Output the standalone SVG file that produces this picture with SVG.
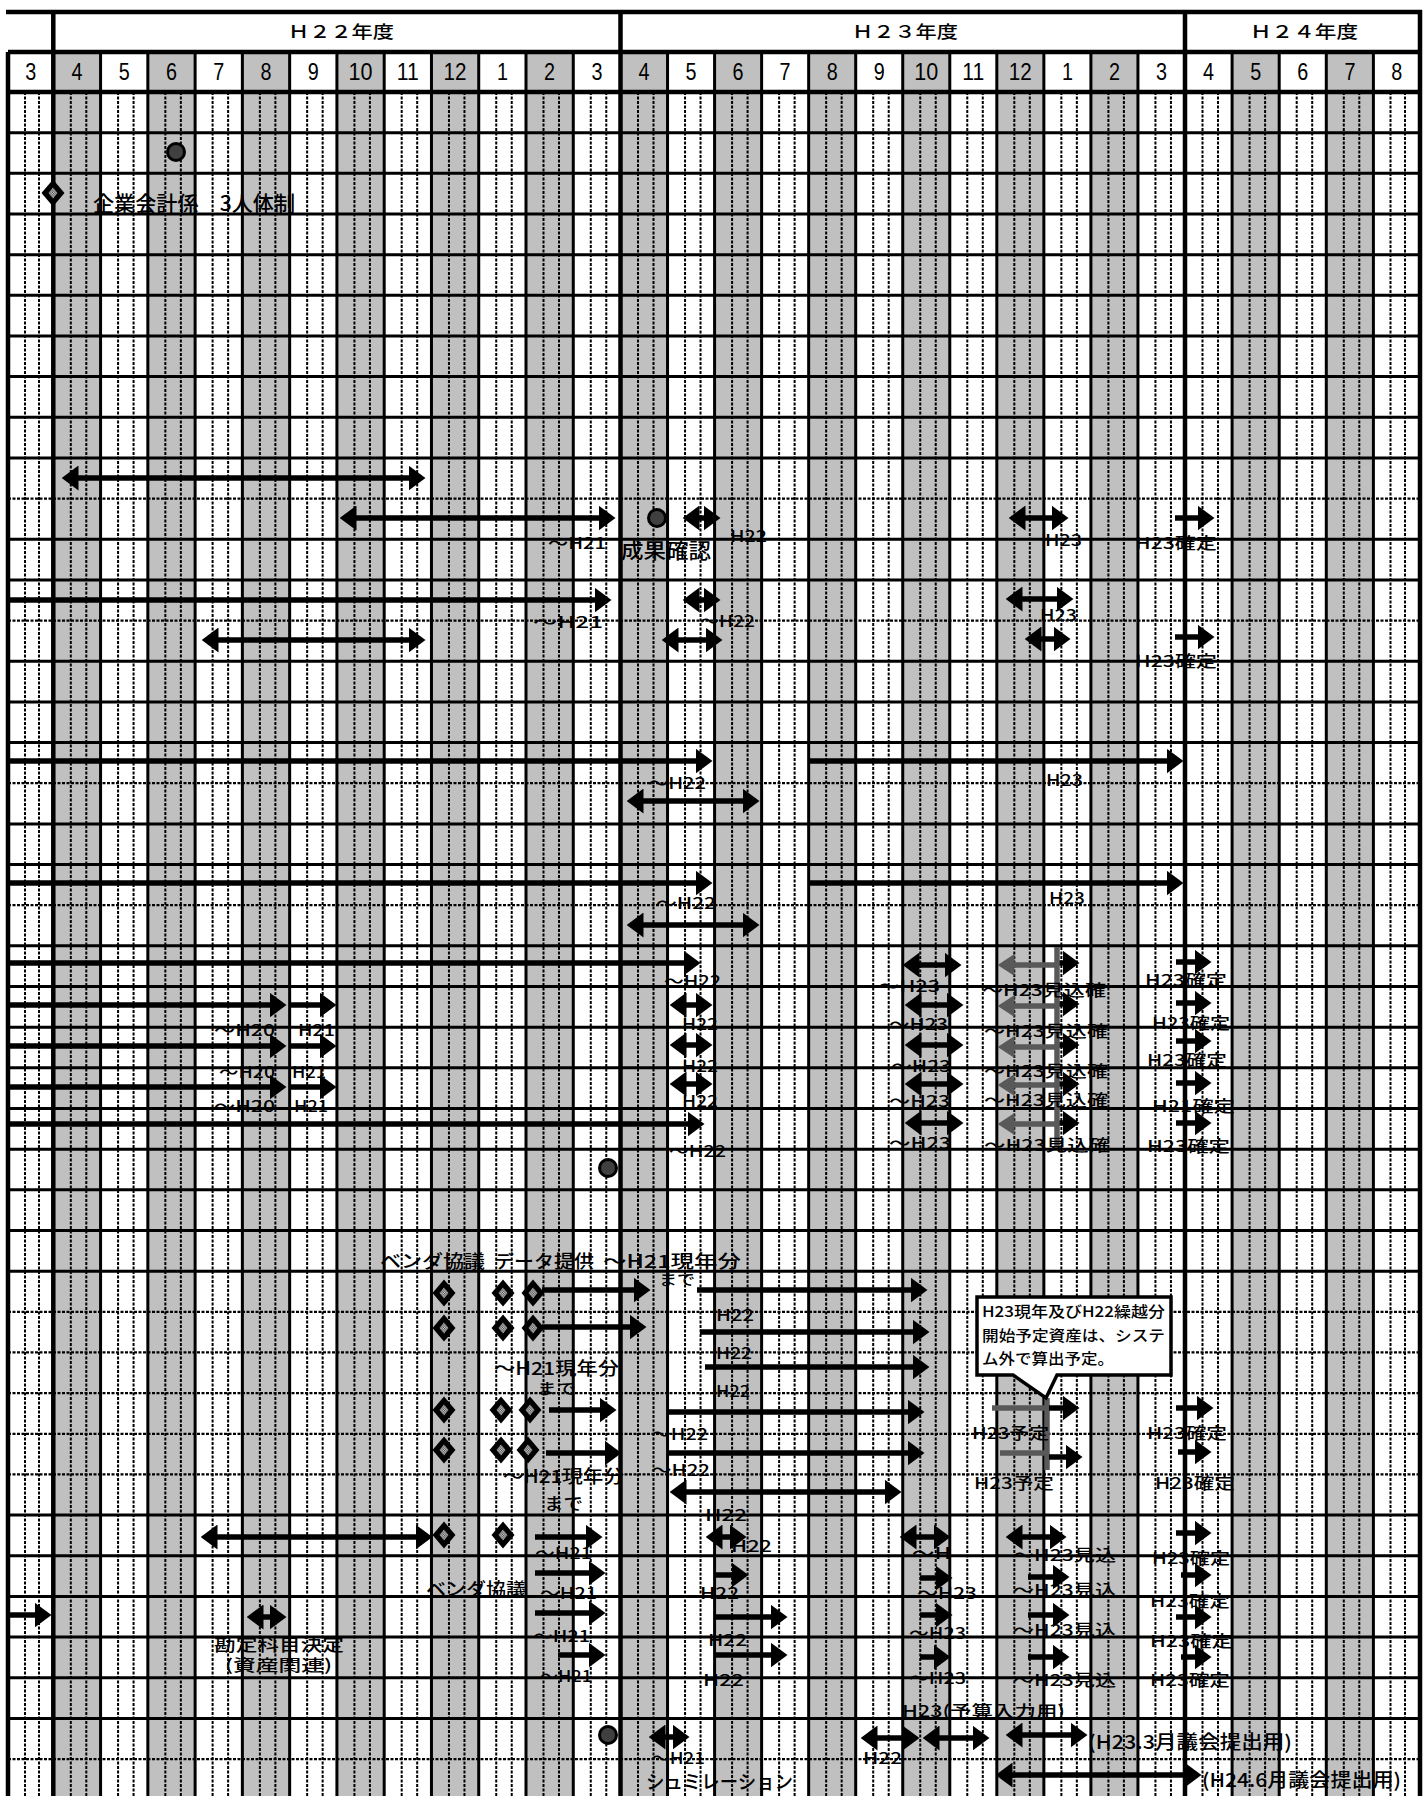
<svg xmlns="http://www.w3.org/2000/svg" width="1427" height="1796" viewBox="0 0 1427 1796">
<defs>
<style>
.g{fill:#c0c0c0}
.dv{stroke:#000;stroke-width:2;stroke-dasharray:3 1.5;fill:none}
.dh{stroke:#000;stroke-width:2.2;stroke-dasharray:3 1.5;fill:none}
.sl{stroke:#000;stroke-width:3;fill:none}
.tk{stroke:#000;stroke-width:4.5;fill:none}
.yr{font-family:"Noto Sans CJK JP","Noto Sans",sans-serif;font-size:17px;font-weight:500;fill:#000}
.mo{font-family:"Liberation Sans",Arial,sans-serif;font-size:23px;text-anchor:middle;fill:#000}
.t{font-family:"Noto Sans CJK JP","Noto Sans",sans-serif;font-size:16px;font-weight:500;fill:#000}
.r{stroke:#000;stroke-width:5.5;fill:none;marker-end:url(#ah)}
.d{stroke:#000;stroke-width:5.5;fill:none;marker-start:url(#ah);marker-end:url(#ah)}
.gd{stroke:#595959;stroke-width:5.5;fill:none;marker-start:url(#ahg)}
.gl{stroke:#595959;stroke-width:5.5;fill:none}
.dot{fill:#404040;stroke:#000;stroke-width:3}
</style>
<marker id="ah" viewBox="0 0 17 25" refX="0.5" refY="12.5" markerWidth="17" markerHeight="25" markerUnits="userSpaceOnUse" orient="auto-start-reverse"><path d="M0,0L17,12.5L0,25Z" fill="#000"/></marker>
<marker id="ahg" viewBox="0 0 17 22" refX="0.5" refY="11" markerWidth="17" markerHeight="22" markerUnits="userSpaceOnUse" orient="auto-start-reverse"><path d="M0,0L17,11L0,22Z" fill="#595959"/></marker>
<pattern id="chk" width="2.4" height="2.4" patternUnits="userSpaceOnUse"><rect width="2.4" height="2.4" fill="#d8d8d8"/><rect width="1.2" height="1.2" fill="#404040"/><rect x="1.2" y="1.2" width="1.2" height="1.2" fill="#404040"/></pattern>
<g id="dia"><path d="M0,-13.5L11.5,0L0,13.5L-11.5,0Z" fill="#000"/><path d="M0,-5.5L4.5,0L0,5.5L-4.5,0Z" fill="url(#chk)"/></g>
</defs>
<rect width="1427" height="1796" fill="#fff"/>
<g id="grid">
<rect class="g" x="53.3" y="52" width="47.27" height="1744"/>
<rect class="g" x="147.84" y="52" width="47.27" height="1744"/>
<rect class="g" x="242.38" y="52" width="47.27" height="1744"/>
<rect class="g" x="336.92" y="52" width="47.27" height="1744"/>
<rect class="g" x="431.46" y="52" width="47.27" height="1744"/>
<rect class="g" x="526" y="52" width="47.27" height="1744"/>
<rect class="g" x="620.5" y="52" width="47.04" height="1744"/>
<rect class="g" x="714.58" y="52" width="47.04" height="1744"/>
<rect class="g" x="808.66" y="52" width="47.04" height="1744"/>
<rect class="g" x="902.74" y="52" width="47.04" height="1744"/>
<rect class="g" x="996.82" y="52" width="47.04" height="1744"/>
<rect class="g" x="1090.9" y="52" width="47.04" height="1744"/>
<rect class="g" x="1232.1" y="52" width="47.1" height="1744"/>
<rect class="g" x="1326.3" y="52" width="47.1" height="1744"/>
<path class="dv" d="M25,92V1796M39,92V1796M70.8,92V1796M86.3,92V1796M118.07,92V1796M133.57,92V1796M165.34,92V1796M180.84,92V1796M212.61,92V1796M228.11,92V1796M259.88,92V1796M275.38,92V1796M307.15,92V1796M322.65,92V1796M354.42,92V1796M369.92,92V1796M401.69,92V1796M417.19,92V1796M448.96,92V1796M464.46,92V1796M496.23,92V1796M511.73,92V1796M543.5,92V1796M559,92V1796M590.77,92V1796M606.27,92V1796M638,92V1796M653.5,92V1796M685.04,92V1796M700.54,92V1796M732.08,92V1796M747.58,92V1796M779.12,92V1796M794.62,92V1796M826.16,92V1796M841.66,92V1796M873.2,92V1796M888.7,92V1796M920.24,92V1796M935.74,92V1796M967.28,92V1796M982.78,92V1796M1014.32,92V1796M1029.82,92V1796M1061.36,92V1796M1076.86,92V1796M1108.4,92V1796M1123.9,92V1796M1155.44,92V1796M1170.94,92V1796M1202.5,92V1796M1218,92V1796M1249.6,92V1796M1265.1,92V1796M1296.7,92V1796M1312.2,92V1796M1343.8,92V1796M1359.3,92V1796M1390.5,92V1796M1405,92V1796"/>
<path class="dh" d="M8,498.6H1420M8,620.58H1420M8,783.22H1420M8,905.2H1420M8,1311.8H1420M8,1352.46H1420M8,1393.12H1420M8,1433.78H1420M8,1474.44H1420M8,1759.06H1420"/>
<path class="sl" d="M8,132.66H1420M8,173.32H1420M8,213.98H1420M8,254.64H1420M8,295.3H1420M8,335.96H1420M8,376.62H1420M8,417.28H1420M8,457.94H1420M8,539.26H1420M8,579.92H1420M8,661.24H1420M8,701.9H1420M8,742.56H1420M8,823.88H1420M8,864.54H1420M8,945.86H1420M8,986.52H1420M8,1027.18H1420M8,1067.84H1420M8,1108.5H1420M8,1149.16H1420M8,1189.82H1420M8,1230.48H1420M8,1271.14H1420M8,1515.1H1420M8,1555.76H1420M8,1596.42H1420M8,1637.08H1420M8,1677.74H1420M8,1718.4H1420"/>
<path class="sl" d="M100.57,52V1796M147.84,52V1796M195.11,52V1796M242.38,52V1796M289.65,52V1796M336.92,52V1796M384.19,52V1796M431.46,52V1796M478.73,52V1796M526,52V1796M573.27,52V1796M667.54,52V1796M714.58,52V1796M761.62,52V1796M808.66,52V1796M855.7,52V1796M902.74,52V1796M949.78,52V1796M996.82,52V1796M1043.86,52V1796M1090.9,52V1796M1137.94,52V1796M1232.1,52V1796M1279.2,52V1796M1326.3,52V1796M1373.4,52V1796"/>
<path class="tk" d="M53.3,12V1796M620.5,12V1796M1185,12V1796M8,52V1796M1420,10V1796M6,12H1422M8,52H1420M8,92H1420"/>
</g>
<g id="header">
<text class="yr" x="288" y="38" textLength="106" lengthAdjust="spacingAndGlyphs">Ｈ２２年度</text>
<text class="yr" x="852" y="38" textLength="106" lengthAdjust="spacingAndGlyphs">Ｈ２３年度</text>
<text class="yr" x="1250" y="38" textLength="108" lengthAdjust="spacingAndGlyphs">Ｈ２４年度</text>
<text class="mo" x="30.7" y="80" textLength="11" lengthAdjust="spacingAndGlyphs">3</text>
<text class="mo" x="76.9" y="80" textLength="11" lengthAdjust="spacingAndGlyphs">4</text>
<text class="mo" x="124.2" y="80" textLength="11" lengthAdjust="spacingAndGlyphs">5</text>
<text class="mo" x="171.5" y="80" textLength="11" lengthAdjust="spacingAndGlyphs">6</text>
<text class="mo" x="218.7" y="80" textLength="11" lengthAdjust="spacingAndGlyphs">7</text>
<text class="mo" x="266" y="80" textLength="11" lengthAdjust="spacingAndGlyphs">8</text>
<text class="mo" x="313.3" y="80" textLength="11" lengthAdjust="spacingAndGlyphs">9</text>
<text class="mo" x="360.6" y="80" textLength="24" lengthAdjust="spacingAndGlyphs">10</text>
<text class="mo" x="407.8" y="80" textLength="22" lengthAdjust="spacingAndGlyphs">11</text>
<text class="mo" x="455.1" y="80" textLength="23" lengthAdjust="spacingAndGlyphs">12</text>
<text class="mo" x="502.4" y="80" textLength="11" lengthAdjust="spacingAndGlyphs">1</text>
<text class="mo" x="549.6" y="80" textLength="11" lengthAdjust="spacingAndGlyphs">2</text>
<text class="mo" x="596.9" y="80" textLength="11" lengthAdjust="spacingAndGlyphs">3</text>
<text class="mo" x="644" y="80" textLength="11" lengthAdjust="spacingAndGlyphs">4</text>
<text class="mo" x="691.1" y="80" textLength="11" lengthAdjust="spacingAndGlyphs">5</text>
<text class="mo" x="738.1" y="80" textLength="11" lengthAdjust="spacingAndGlyphs">6</text>
<text class="mo" x="785.1" y="80" textLength="11" lengthAdjust="spacingAndGlyphs">7</text>
<text class="mo" x="832.2" y="80" textLength="11" lengthAdjust="spacingAndGlyphs">8</text>
<text class="mo" x="879.2" y="80" textLength="11" lengthAdjust="spacingAndGlyphs">9</text>
<text class="mo" x="926.3" y="80" textLength="24" lengthAdjust="spacingAndGlyphs">10</text>
<text class="mo" x="973.3" y="80" textLength="22" lengthAdjust="spacingAndGlyphs">11</text>
<text class="mo" x="1020.3" y="80" textLength="23" lengthAdjust="spacingAndGlyphs">12</text>
<text class="mo" x="1067.4" y="80" textLength="11" lengthAdjust="spacingAndGlyphs">1</text>
<text class="mo" x="1114.4" y="80" textLength="11" lengthAdjust="spacingAndGlyphs">2</text>
<text class="mo" x="1161.5" y="80" textLength="11" lengthAdjust="spacingAndGlyphs">3</text>
<text class="mo" x="1208.6" y="80" textLength="11" lengthAdjust="spacingAndGlyphs">4</text>
<text class="mo" x="1255.7" y="80" textLength="11" lengthAdjust="spacingAndGlyphs">5</text>
<text class="mo" x="1302.8" y="80" textLength="11" lengthAdjust="spacingAndGlyphs">6</text>
<text class="mo" x="1349.9" y="80" textLength="11" lengthAdjust="spacingAndGlyphs">7</text>
<text class="mo" x="1396.7" y="80" textLength="11" lengthAdjust="spacingAndGlyphs">8</text>
</g>
<g id="connectors">
<line class="d" x1="78" y1="478" x2="409" y2="478"/>
<line class="d" x1="356" y1="518" x2="599" y2="518"/>
<line class="d" x1="699" y1="518" x2="704" y2="518"/>
<line class="d" x1="1025" y1="518" x2="1052" y2="518"/>
<line class="r" x1="1175" y1="518" x2="1198" y2="518"/>
<line class="r" x1="8" y1="600" x2="595" y2="600"/>
<line class="d" x1="699" y1="600" x2="704" y2="600"/>
<line class="d" x1="1022" y1="599" x2="1057" y2="599"/>
<line class="d" x1="218" y1="640" x2="409" y2="640"/>
<line class="d" x1="678" y1="640" x2="706" y2="640"/>
<line class="d" x1="1041" y1="639" x2="1054" y2="639"/>
<line class="r" x1="1175" y1="637" x2="1198" y2="637"/>
<line class="r" x1="8" y1="761" x2="696" y2="761"/>
<line class="r" x1="809" y1="761" x2="1167" y2="761"/>
<line class="d" x1="643" y1="801" x2="743" y2="801"/>
<line class="r" x1="8" y1="883" x2="696" y2="883"/>
<line class="r" x1="809" y1="883" x2="1167" y2="883"/>
<line class="d" x1="643" y1="925" x2="743" y2="925"/>
<line class="r" x1="8" y1="963" x2="684" y2="963"/>
<line class="d" x1="919" y1="965" x2="945" y2="965"/>
<line class="gd" x1="1014" y1="965" x2="1057" y2="965"/>
<line class="r" x1="1057" y1="963" x2="1063" y2="963"/>
<line class="r" x1="1176" y1="962" x2="1195" y2="962"/>
<line class="r" x1="8" y1="1005" x2="270" y2="1005"/>
<line class="r" x1="291" y1="1005" x2="320" y2="1005"/>
<line class="d" x1="686" y1="1005" x2="696" y2="1005"/>
<line class="d" x1="921" y1="1005" x2="947" y2="1005"/>
<line class="gd" x1="1014" y1="1006" x2="1057" y2="1006"/>
<line class="r" x1="1057" y1="1004" x2="1063" y2="1004"/>
<line class="r" x1="1176" y1="1003" x2="1195" y2="1003"/>
<line class="r" x1="8" y1="1046" x2="270" y2="1046"/>
<line class="r" x1="291" y1="1046" x2="320" y2="1046"/>
<line class="d" x1="686" y1="1045" x2="696" y2="1045"/>
<line class="d" x1="921" y1="1045" x2="947" y2="1045"/>
<line class="gd" x1="1014" y1="1047" x2="1057" y2="1047"/>
<line class="r" x1="1057" y1="1045" x2="1063" y2="1045"/>
<line class="r" x1="1176" y1="1041" x2="1195" y2="1041"/>
<line class="r" x1="8" y1="1087" x2="270" y2="1087"/>
<line class="r" x1="291" y1="1087" x2="320" y2="1087"/>
<line class="d" x1="686" y1="1084" x2="696" y2="1084"/>
<line class="d" x1="921" y1="1084" x2="947" y2="1084"/>
<line class="gd" x1="1014" y1="1085" x2="1057" y2="1085"/>
<line class="r" x1="1057" y1="1084" x2="1063" y2="1084"/>
<line class="r" x1="1176" y1="1083" x2="1195" y2="1083"/>
<line class="r" x1="8" y1="1124" x2="688" y2="1124"/>
<line class="d" x1="921" y1="1123" x2="947" y2="1123"/>
<line class="gd" x1="1014" y1="1124" x2="1057" y2="1124"/>
<line class="r" x1="1057" y1="1123" x2="1063" y2="1123"/>
<line class="r" x1="1176" y1="1123" x2="1195" y2="1123"/>
<line class="gl" x1="1057" y1="947" x2="1057" y2="1148"/>
<line class="r" x1="542" y1="1290" x2="634" y2="1290"/>
<line class="r" x1="697" y1="1290" x2="911" y2="1290"/>
<line class="r" x1="542" y1="1327" x2="630" y2="1327"/>
<line class="r" x1="700" y1="1332" x2="913" y2="1332"/>
<line class="r" x1="705" y1="1367" x2="913" y2="1367"/>
<line class="r" x1="549" y1="1410" x2="600" y2="1410"/>
<line class="r" x1="669" y1="1412" x2="908" y2="1412"/>
<line class="gl" x1="992" y1="1408" x2="1049" y2="1408"/>
<line class="gl" x1="1047" y1="1398" x2="1047" y2="1470"/>
<line class="gl" x1="1000" y1="1453" x2="1047" y2="1453"/>
<line class="r" x1="1049" y1="1408" x2="1063" y2="1408"/>
<line class="r" x1="1176" y1="1408" x2="1197" y2="1408"/>
<line class="r" x1="546" y1="1453" x2="605" y2="1453"/>
<line class="r" x1="669" y1="1453" x2="908" y2="1453"/>
<line class="r" x1="1049" y1="1457" x2="1066" y2="1457"/>
<line class="r" x1="1178" y1="1452" x2="1195" y2="1452"/>
<line class="d" x1="686" y1="1492" x2="885" y2="1492"/>
<line class="d" x1="217" y1="1537" x2="416" y2="1537"/>
<line class="r" x1="535" y1="1537" x2="586" y2="1537"/>
<line class="d" x1="722" y1="1537" x2="730" y2="1537"/>
<line class="d" x1="916" y1="1537" x2="934" y2="1537"/>
<line class="d" x1="1022" y1="1537" x2="1050" y2="1537"/>
<line class="r" x1="1176" y1="1533" x2="1195" y2="1533"/>
<line class="r" x1="535" y1="1573" x2="589" y2="1573"/>
<line class="r" x1="716" y1="1575" x2="732" y2="1575"/>
<line class="r" x1="920" y1="1578" x2="936" y2="1578"/>
<line class="r" x1="1028" y1="1577" x2="1053" y2="1577"/>
<line class="r" x1="1181" y1="1575" x2="1195" y2="1575"/>
<line class="r" x1="8" y1="1615" x2="35" y2="1615"/>
<line class="d" x1="263" y1="1617" x2="270" y2="1617"/>
<line class="r" x1="535" y1="1613" x2="589" y2="1613"/>
<line class="r" x1="716" y1="1617" x2="771" y2="1617"/>
<line class="r" x1="920" y1="1615" x2="936" y2="1615"/>
<line class="r" x1="1028" y1="1615" x2="1053" y2="1615"/>
<line class="r" x1="1176" y1="1617" x2="1195" y2="1617"/>
<line class="r" x1="558" y1="1655" x2="589" y2="1655"/>
<line class="r" x1="716" y1="1655" x2="771" y2="1655"/>
<line class="r" x1="920" y1="1657" x2="934" y2="1657"/>
<line class="r" x1="1028" y1="1657" x2="1053" y2="1657"/>
<line class="r" x1="1181" y1="1657" x2="1195" y2="1657"/>
<line class="d" x1="665" y1="1737" x2="673" y2="1737"/>
<line class="d" x1="877" y1="1738" x2="903" y2="1738"/>
<line class="d" x1="939" y1="1738" x2="973" y2="1738"/>
<line class="d" x1="1022" y1="1735" x2="1071" y2="1735"/>
<line class="d" x1="1012" y1="1775" x2="1185" y2="1775"/>
</g>
<g id="milestones">
<circle class="dot" cx="176" cy="152" r="8.5"/>
<circle class="dot" cx="657" cy="518" r="8.5"/>
<circle class="dot" cx="608" cy="1168" r="8.5"/>
<circle class="dot" cx="608" cy="1735" r="8.5"/>
<use href="#dia" x="53" y="193"/>
<use href="#dia" x="444" y="1293"/><use href="#dia" x="503" y="1293"/><use href="#dia" x="533" y="1293"/>
<use href="#dia" x="444" y="1328"/><use href="#dia" x="503" y="1328"/><use href="#dia" x="533" y="1328"/>
<use href="#dia" x="444" y="1410"/><use href="#dia" x="501" y="1410"/><use href="#dia" x="530" y="1410"/>
<use href="#dia" x="444" y="1450"/><use href="#dia" x="501" y="1450"/><use href="#dia" x="528" y="1450"/>
<use href="#dia" x="444" y="1535"/><use href="#dia" x="503" y="1535"/>
</g>
<g id="callout">
<path d="M977,1297H1171V1375H1057L1046,1398L1013,1375H977Z" fill="#fff" stroke="#000" stroke-width="3.5" stroke-linejoin="miter"/>
<text class="t" x="982" y="1317" style="font-size:15px" textLength="183" lengthAdjust="spacingAndGlyphs">H23現年及びH22繰越分</text>
<text class="t" x="982" y="1341" style="font-size:15px" textLength="183" lengthAdjust="spacingAndGlyphs">開始予定資産は、システ</text>
<text class="t" x="982" y="1364" style="font-size:15px" textLength="132" lengthAdjust="spacingAndGlyphs">ム外で算出予定。</text>
</g>
<g id="labels">
<text class="t" x="93" y="211" style="font-size:21px" textLength="202" lengthAdjust="spacingAndGlyphs">企業会計係　3人体制</text>
<text class="t" x="548" y="549" textLength="58" lengthAdjust="spacingAndGlyphs">～H21</text>
<text class="t" x="621" y="558" style="font-size:21px" textLength="90" lengthAdjust="spacingAndGlyphs">成果確認</text>
<text class="t" x="730" y="542" textLength="37" lengthAdjust="spacingAndGlyphs">H22</text>
<text class="t" x="1045" y="546" textLength="37" lengthAdjust="spacingAndGlyphs">H23</text>
<text class="t" x="1135" y="549" textLength="82" lengthAdjust="spacingAndGlyphs">H23確定</text>
<text class="t" x="533" y="628" textLength="70" lengthAdjust="spacingAndGlyphs">～H21</text>
<text class="t" x="700" y="627" textLength="55" lengthAdjust="spacingAndGlyphs">～H22</text>
<text class="t" x="1040" y="621" textLength="37" lengthAdjust="spacingAndGlyphs">H23</text>
<text class="t" x="1135" y="667" textLength="82" lengthAdjust="spacingAndGlyphs">H23確定</text>
<text class="t" x="648" y="789" textLength="58" lengthAdjust="spacingAndGlyphs">～H22</text>
<text class="t" x="1046" y="786" textLength="37" lengthAdjust="spacingAndGlyphs">H23</text>
<text class="t" x="656" y="909" textLength="60" lengthAdjust="spacingAndGlyphs">～H22</text>
<text class="t" x="1049" y="904" textLength="36" lengthAdjust="spacingAndGlyphs">H23</text>
<text class="t" x="664" y="987" textLength="57" lengthAdjust="spacingAndGlyphs">～H22</text>
<text class="t" x="878" y="992" textLength="62" lengthAdjust="spacingAndGlyphs">～H23</text>
<text class="t" x="982" y="996" textLength="124" lengthAdjust="spacingAndGlyphs">～H23見込確</text>
<text class="t" x="1145" y="986" textLength="82" lengthAdjust="spacingAndGlyphs">H23確定</text>
<text class="t" x="214" y="1036" textLength="61" lengthAdjust="spacingAndGlyphs">～H20</text>
<text class="t" x="298" y="1036" textLength="37" lengthAdjust="spacingAndGlyphs">H21</text>
<text class="t" x="682" y="1030" textLength="36" lengthAdjust="spacingAndGlyphs">H22</text>
<text class="t" x="889" y="1030" textLength="59" lengthAdjust="spacingAndGlyphs">～H23</text>
<text class="t" x="984" y="1037" textLength="124" lengthAdjust="spacingAndGlyphs">～H23見込確</text>
<text class="t" x="1152" y="1029" textLength="78" lengthAdjust="spacingAndGlyphs">H23確定</text>
<text class="t" x="219" y="1078" textLength="56" lengthAdjust="spacingAndGlyphs">～H20</text>
<text class="t" x="292" y="1078" textLength="34" lengthAdjust="spacingAndGlyphs">H21</text>
<text class="t" x="682" y="1072" textLength="36" lengthAdjust="spacingAndGlyphs">H22</text>
<text class="t" x="891" y="1072" textLength="60" lengthAdjust="spacingAndGlyphs">～H23</text>
<text class="t" x="984" y="1077" textLength="124" lengthAdjust="spacingAndGlyphs">～H23見込確</text>
<text class="t" x="1147" y="1066" textLength="80" lengthAdjust="spacingAndGlyphs">H23確定</text>
<text class="t" x="214" y="1112" textLength="61" lengthAdjust="spacingAndGlyphs">～H20</text>
<text class="t" x="294" y="1112" textLength="34" lengthAdjust="spacingAndGlyphs">H21</text>
<text class="t" x="682" y="1107" textLength="36" lengthAdjust="spacingAndGlyphs">H22</text>
<text class="t" x="889" y="1107" textLength="61" lengthAdjust="spacingAndGlyphs">～H23</text>
<text class="t" x="984" y="1106" textLength="124" lengthAdjust="spacingAndGlyphs">～H23見込確</text>
<text class="t" x="1152" y="1112" textLength="83" lengthAdjust="spacingAndGlyphs">H21確定</text>
<text class="t" x="669" y="1157" textLength="57" lengthAdjust="spacingAndGlyphs">～H22</text>
<text class="t" x="889" y="1149" textLength="62" lengthAdjust="spacingAndGlyphs">～H23</text>
<text class="t" x="984" y="1151" textLength="126" lengthAdjust="spacingAndGlyphs">～H23見込確</text>
<text class="t" x="1147" y="1152" textLength="83" lengthAdjust="spacingAndGlyphs">H23確定</text>
<text class="t" x="380" y="1268" style="font-size:18px" textLength="105" lengthAdjust="spacingAndGlyphs">ベンダ協議</text>
<text class="t" x="494" y="1268" style="font-size:18px" textLength="100" lengthAdjust="spacingAndGlyphs">データ提供</text>
<text class="t" x="603" y="1268" style="font-size:18px" textLength="138" lengthAdjust="spacingAndGlyphs">～H21現年分</text>
<text class="t" x="659" y="1285" style="font-size:15px" textLength="36" lengthAdjust="spacingAndGlyphs">まで</text>
<text class="t" x="716" y="1321" textLength="38" lengthAdjust="spacingAndGlyphs">H22</text>
<text class="t" x="716" y="1359" textLength="36" lengthAdjust="spacingAndGlyphs">H22</text>
<text class="t" x="716" y="1397" textLength="34" lengthAdjust="spacingAndGlyphs">H22</text>
<text class="t" x="494" y="1375" style="font-size:18px" textLength="125" lengthAdjust="spacingAndGlyphs">～H21現年分</text>
<text class="t" x="537" y="1394" style="font-size:15px" textLength="39" lengthAdjust="spacingAndGlyphs">まで</text>
<text class="t" x="651" y="1440" textLength="57" lengthAdjust="spacingAndGlyphs">～H22</text>
<text class="t" x="972" y="1439" textLength="77" lengthAdjust="spacingAndGlyphs">H23予定</text>
<text class="t" x="1147" y="1439" textLength="80" lengthAdjust="spacingAndGlyphs">H23確定</text>
<text class="t" x="651" y="1476" textLength="59" lengthAdjust="spacingAndGlyphs">～H22</text>
<text class="t" x="974" y="1489" textLength="80" lengthAdjust="spacingAndGlyphs">H23予定</text>
<text class="t" x="1155" y="1489" textLength="80" lengthAdjust="spacingAndGlyphs">H23確定</text>
<text class="t" x="503" y="1483" style="font-size:18px" textLength="121" lengthAdjust="spacingAndGlyphs">～H21現年分</text>
<text class="t" x="544" y="1510" style="font-size:17px" textLength="39" lengthAdjust="spacingAndGlyphs">まで</text>
<text class="t" x="705" y="1521" textLength="42" lengthAdjust="spacingAndGlyphs">H22</text>
<text class="t" x="535" y="1559" textLength="57" lengthAdjust="spacingAndGlyphs">～H21</text>
<text class="t" x="731" y="1552" textLength="41" lengthAdjust="spacingAndGlyphs">H22</text>
<text class="t" x="912" y="1559" textLength="39" lengthAdjust="spacingAndGlyphs">～H</text>
<text class="t" x="1013" y="1561" textLength="103" lengthAdjust="spacingAndGlyphs">～H23見込</text>
<text class="t" x="1152" y="1564" textLength="78" lengthAdjust="spacingAndGlyphs">H23確定</text>
<text class="t" x="426" y="1596" style="font-size:18px" textLength="100" lengthAdjust="spacingAndGlyphs">ベンダ協議</text>
<text class="t" x="540" y="1599" textLength="57" lengthAdjust="spacingAndGlyphs">～H21</text>
<text class="t" x="700" y="1599" textLength="39" lengthAdjust="spacingAndGlyphs">H22</text>
<text class="t" x="917" y="1599" textLength="60" lengthAdjust="spacingAndGlyphs">～H23</text>
<text class="t" x="1013" y="1596" textLength="103" lengthAdjust="spacingAndGlyphs">～H23見込</text>
<text class="t" x="1150" y="1607" textLength="80" lengthAdjust="spacingAndGlyphs">H23確定</text>
<text class="t" x="533" y="1642" textLength="57" lengthAdjust="spacingAndGlyphs">～H21</text>
<text class="t" x="214" y="1651" style="font-size:17px" textLength="130" lengthAdjust="spacingAndGlyphs">勘定科目決定</text>
<text class="t" x="225" y="1671" style="font-size:16px" textLength="107" lengthAdjust="spacingAndGlyphs">(資産関連)</text>
<text class="t" x="708" y="1646" textLength="39" lengthAdjust="spacingAndGlyphs">H22</text>
<text class="t" x="909" y="1639" textLength="57" lengthAdjust="spacingAndGlyphs">～H23</text>
<text class="t" x="1013" y="1636" textLength="103" lengthAdjust="spacingAndGlyphs">～H23見込</text>
<text class="t" x="1150" y="1647" textLength="83" lengthAdjust="spacingAndGlyphs">H23確定</text>
<text class="t" x="540" y="1682" textLength="52" lengthAdjust="spacingAndGlyphs">～H21</text>
<text class="t" x="703" y="1686" textLength="41" lengthAdjust="spacingAndGlyphs">H22</text>
<text class="t" x="909" y="1684" textLength="57" lengthAdjust="spacingAndGlyphs">～H23</text>
<text class="t" x="1013" y="1686" textLength="103" lengthAdjust="spacingAndGlyphs">～H23見込</text>
<text class="t" x="1150" y="1686" textLength="80" lengthAdjust="spacingAndGlyphs">H23確定</text>
<text class="t" x="902" y="1717" textLength="163" lengthAdjust="spacingAndGlyphs">H23(予算入力用)</text>
<text class="t" x="651" y="1764" textLength="54" lengthAdjust="spacingAndGlyphs">～H21</text>
<text class="t" x="863" y="1764" textLength="39" lengthAdjust="spacingAndGlyphs">H22</text>
<text class="t" x="1088" y="1749" style="font-size:19px" textLength="204" lengthAdjust="spacingAndGlyphs">(H23.3月議会提出用)</text>
<text class="t" x="646" y="1789" style="font-size:19px" textLength="147" lengthAdjust="spacingAndGlyphs">シュミレーション</text>
<text class="t" x="1202" y="1787" style="font-size:19px" textLength="199" lengthAdjust="spacingAndGlyphs">(H24.6月議会提出用)</text>
</g>
</svg>
